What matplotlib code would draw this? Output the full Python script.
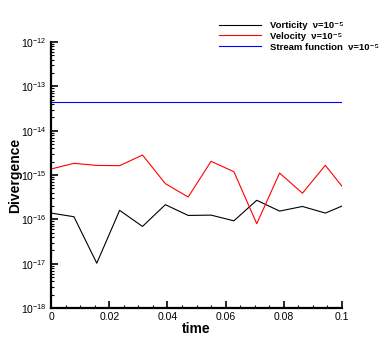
import numpy as np
import matplotlib.pyplot as plt
from matplotlib.ticker import LogLocator, MultipleLocator, NullFormatter

plt.rcParams['font.family'] = ['Liberation Sans', 'DejaVu Sans']
plt.rcParams['mathtext.fontset'] = 'custom'
plt.rcParams['mathtext.rm'] = 'Liberation Sans'

# time levels (dt = pi/400, last step to 0.1)
time = [0.0, 0.00785, 0.0157, 0.02356, 0.03142, 0.03927, 0.04712,
        0.05498, 0.06283, 0.07069, 0.07854, 0.08639, 0.09425, 0.1]

vorticity = [1.39e-16, 1.15e-16, 1.03e-17, 1.6e-16, 6.95e-17, 2.15e-16, 1.23e-16,
             1.25e-16, 9.3e-17, 2.7e-16, 1.54e-16, 1.96e-16, 1.39e-16, 2.0e-16]
velocity = [1.37e-15, 1.84e-15, 1.65e-15, 1.63e-15, 2.83e-15, 6.4e-16, 3.2e-16,
            2.04e-15, 1.19e-15, 8.0e-17, 1.11e-15, 3.9e-16, 1.66e-15, 5.6e-16]
stream = [4.4e-14] * 14

labels = ['Vorticity  ν=10⁻⁵',
          'Velocity  ν=10⁻⁵',
          'Stream function  ν=10⁻⁵']

yticks = [1e-18, 1e-17, 1e-16, 1e-15, 1e-14, 1e-13, 1e-12]
ytick_labels = ['10$^{-18}$', '10$^{-17}$', '10$^{-16}$', '10$^{-15}$',
                '10$^{-14}$', '10$^{-13}$', '10$^{-12}$']
xticks = [0, 0.02, 0.04, 0.06, 0.08, 0.1]
xtick_labels = ['0', '0.02', '0.04', '0.06', '0.08', '0.1']

fig = plt.figure(figsize=(3.9, 3.47), dpi=100)
ax = fig.add_axes([0.131, 0.112, 0.746, 0.767])

ax.plot(time, vorticity, color='black', lw=0.8, label=labels[0])
ax.plot(time, velocity, color='red', lw=0.8, label=labels[1])
ax.plot(time, stream, color='blue', lw=0.8, label=labels[2])

ax.set_yscale('log')
ax.set_xlim(0, 0.1)
ax.set_ylim(1e-18, 1e-12)

ax.set_xticks(xticks)
ax.set_xticklabels(xtick_labels)
ax.xaxis.set_minor_locator(MultipleLocator(0.005))
ax.set_yticks(yticks)
ax.set_yticklabels(ytick_labels)
ax.yaxis.set_minor_locator(LogLocator(base=10, subs=np.arange(2, 10), numticks=20))
ax.yaxis.set_minor_formatter(NullFormatter())

for s in ['top', 'right']:
    ax.spines[s].set_visible(False)
for s in ['left', 'bottom']:
    ax.spines[s].set_linewidth(1.6)

ax.tick_params(which='major', direction='in', length=5, width=1.2, labelsize=7.5, pad=3)
ax.tick_params(which='minor', direction='in', length=2.5, width=0.8)

ax.set_xlabel('time', fontsize=10, fontweight='bold', labelpad=0)
ax.set_ylabel('Divergence', fontsize=10, fontweight='bold')
ax.yaxis.set_label_coords(-0.10, 0.5)

leg = ax.legend(loc='upper left', bbox_to_anchor=(0.56, 1.097), frameon=False,
                fontsize=6.8, handlelength=4.5, handletextpad=0.9, labelspacing=0.2,
                borderpad=0)
for t in leg.get_texts():
    t.set_fontweight('bold')

fig.savefig('out.png', dpi=100)
